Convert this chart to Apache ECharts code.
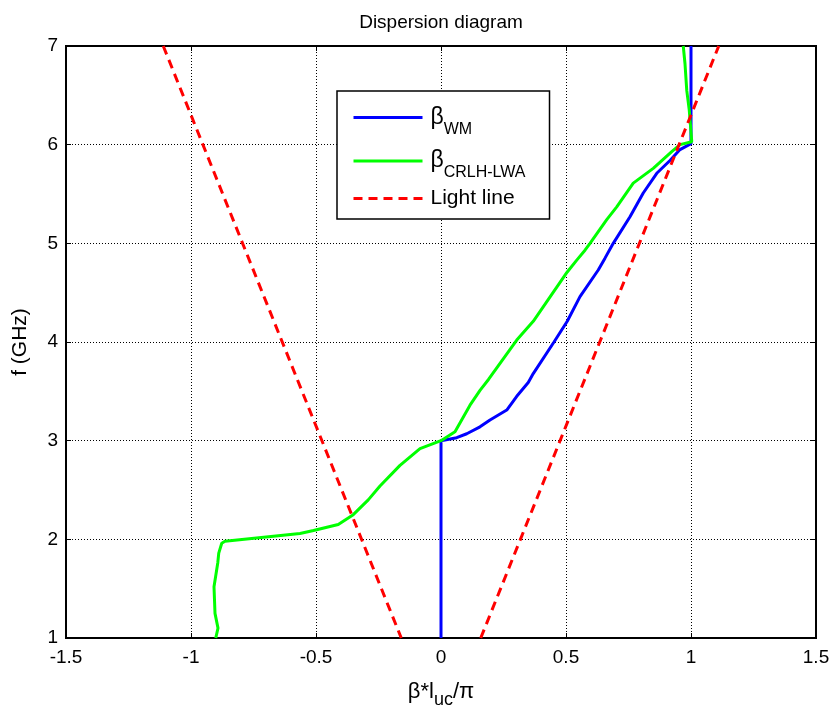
<!DOCTYPE html>
<html><head><meta charset="utf-8">
<script src="https://cdn.jsdelivr.net/npm/echarts@6/dist/echarts.min.js"></script>
<style>html,body{margin:0;padding:0;background:#fff}#c{width:837px;height:708px}</style>
</head><body><div id="c"></div>
<script>
const xTicks = [-1.5, -1, -0.5, 0, 0.5, 1, 1.5];
const yTicks = [1, 2, 3, 4, 5, 6, 7];

const wmBeta = [0, 0, 0.063, 0.103, 0.156, 0.196, 0.263, 0.303, 0.349, 0.369, 0.452, 0.505, 0.556, 0.629, 0.656, 0.689, 0.756, 0.809, 0.863, 0.916, 0.956, 1.0, 1.0];
const wmFreq = [1, 3.0, 3.03, 3.07, 3.14, 3.21, 3.31, 3.45, 3.59, 3.68, 4.0, 4.21, 4.46, 4.73, 4.85, 5.0, 5.27, 5.51, 5.71, 5.84, 5.95, 6.01, 7.0];

const crlhBeta = [-0.901, -0.892, -0.904, -0.908, -0.893, -0.889, -0.877, -0.864, -0.564, -0.51, -0.411, -0.351, -0.291, -0.244, -0.164, -0.084, 0.0, 0.056, 0.116, 0.156, 0.19, 0.303, 0.369, 0.505, 0.543, 0.576, 0.596, 0.663, 0.703, 0.769, 0.849, 0.923, 0.956, 1.003, 0.993, 0.983, 0.976, 0.969];
const crlhFreq = [1.0, 1.10, 1.25, 1.52, 1.76, 1.86, 1.96, 1.98, 2.06, 2.09, 2.15, 2.25, 2.40, 2.54, 2.75, 2.92, 3.0, 3.09, 3.36, 3.51, 3.62, 4.02, 4.21, 4.71, 4.83, 4.93, 5.0, 5.24, 5.37, 5.61, 5.76, 5.93, 6.0, 6.03, 6.35, 6.55, 6.82, 7.0];

const lightLeftBeta = [-1.111, -0.159];
const lightLeftFreq = [7, 1];
const lightRightBeta = [0.159, 1.111];
const lightRightFreq = [1, 7];

const names = ['βWM', 'βCRLH-LWA', 'Light line'];
const legendRich = {
  'βWM': '{b|β}{s|WM}',
  'βCRLH-LWA': '{b|β}{s|CRLH-LWA}',
  'Light line': '{t|Light line}'
};

const zip = (a, b) => a.map((v, i) => [v, b[i]]);
const F = 'Liberation Sans, Arial, sans-serif';
const legendText = {
  color: '#000', fontFamily: F,
  rich: {
    b: {fontSize: 23, fontFamily: F, padding: [0, 0, 0, 3], color: '#000'},
    s: {fontSize: 16, fontFamily: F, padding: [24, 0, 0, 0], color: '#000'},
    t: {fontSize: 21, fontFamily: F, padding: [0, 0, 0, 3], color: '#000'}
  }
};

const chart = echarts.init(document.getElementById('c'), null, {renderer: 'canvas'});
chart.setOption({
  animation: false,
  backgroundColor: '#fff',
  title: {
    text: 'Dispersion diagram', left: 441, top: 13, textAlign: 'center', padding: 0,
    textStyle: {fontFamily: F, fontSize: 19, fontWeight: 'normal', color: '#000'}
  },
  grid: {left: 66, right: 21, top: 46, bottom: 70, containLabel: false, outerBoundsMode: 'none',
         show: true, borderColor: '#000', borderWidth: 2, backgroundColor: '#fff'},
  legend: [{
    orient: 'vertical', left: 337, top: 91, z: 10,
    padding: [15, 24, 38, 15], itemGap: 12, itemWidth: 69, itemHeight: 4,
    borderColor: '#000', borderWidth: 1.5, backgroundColor: '#fff',
    data: names.slice(0, 2),
    lineStyle: {width: 3},
    itemStyle: {opacity: 0},
    formatter: n => legendRich[n],
    textStyle: legendText
  }, {
    orient: 'vertical', left: 337, top: 188, z: 11,
    padding: [0, 0, 0, 15], itemWidth: 69, itemHeight: 4,
    borderWidth: 0, backgroundColor: 'transparent',
    data: names.slice(2),
    lineStyle: {width: 3},
    itemStyle: {opacity: 0},
    formatter: n => legendRich[n],
    textStyle: legendText
  }],
  xAxis: [{
    type: 'value', min: xTicks[0], max: xTicks[xTicks.length - 1], interval: 0.5,
    position: 'bottom',
    name: '{n|β*l}{s|uc}{n|/π}', nameLocation: 'middle', nameGap: 37,
    nameTextStyle: {color: '#000', fontFamily: F, rich: {
      n: {fontSize: 22, fontFamily: F, color: '#000'},
      s: {fontSize: 18, fontFamily: F, color: '#000', padding: [16, 0, 0, 0]}
    }},
    axisLine: {show: true, onZero: false, lineStyle: {color: '#000', width: 2}},
    axisTick: {show: true, inside: true, length: 5, lineStyle: {color: '#000', width: 1}},
    axisLabel: {color: '#000', fontFamily: F, fontSize: 19, margin: 10, formatter: v => String(v)},
    splitLine: {show: true, lineStyle: {color: '#000', width: 1, type: [1, 2]}}
  }, {
    type: 'value', min: xTicks[0], max: xTicks[xTicks.length - 1], interval: 0.5,
    position: 'top',
    axisLine: {show: true, onZero: false, lineStyle: {color: '#000', width: 2}},
    axisTick: {show: true, inside: true, length: 5, lineStyle: {color: '#000', width: 1}},
    axisLabel: {show: false}, splitLine: {show: false}
  }],
  yAxis: [{
    type: 'value', min: yTicks[0], max: yTicks[yTicks.length - 1], interval: 1,
    position: 'left',
    name: 'f (GHz)', nameLocation: 'middle', nameGap: 35, nameRotate: 90,
    nameTextStyle: {color: '#000', fontFamily: F, fontSize: 21},
    axisLine: {show: true, onZero: false, lineStyle: {color: '#000', width: 2}},
    axisTick: {show: true, inside: true, length: 5, lineStyle: {color: '#000', width: 1}},
    axisLabel: {color: '#000', fontFamily: F, fontSize: 19, margin: 8},
    splitLine: {show: true, lineStyle: {color: '#000', width: 1, type: [1, 2]}}
  }, {
    type: 'value', min: yTicks[0], max: yTicks[yTicks.length - 1], interval: 1,
    position: 'right',
    axisLine: {show: true, onZero: false, lineStyle: {color: '#000', width: 2}},
    axisTick: {show: true, inside: true, length: 5, lineStyle: {color: '#000', width: 1}},
    axisLabel: {show: false}, splitLine: {show: false}
  }],
  series: [
    {name: names[0], type: 'line', symbol: 'none', data: zip(wmBeta, wmFreq),
     lineStyle: {color: '#0000ff', width: 3}, itemStyle: {color: '#0000ff'}},
    {name: names[1], type: 'line', symbol: 'none', data: zip(crlhBeta, crlhFreq),
     lineStyle: {color: '#00ff00', width: 3}, itemStyle: {color: '#00ff00'}},
    {name: names[2], type: 'line', symbol: 'none', data: zip(lightLeftBeta, lightLeftFreq),
     lineStyle: {color: '#ff0000', width: 3, type: [9, 6]}, itemStyle: {color: '#ff0000'}},
    {name: names[2], type: 'line', symbol: 'none', data: zip(lightRightBeta, lightRightFreq),
     lineStyle: {color: '#ff0000', width: 3, type: [9, 6]}, itemStyle: {color: '#ff0000'}}
  ]
});
</script></body></html>
